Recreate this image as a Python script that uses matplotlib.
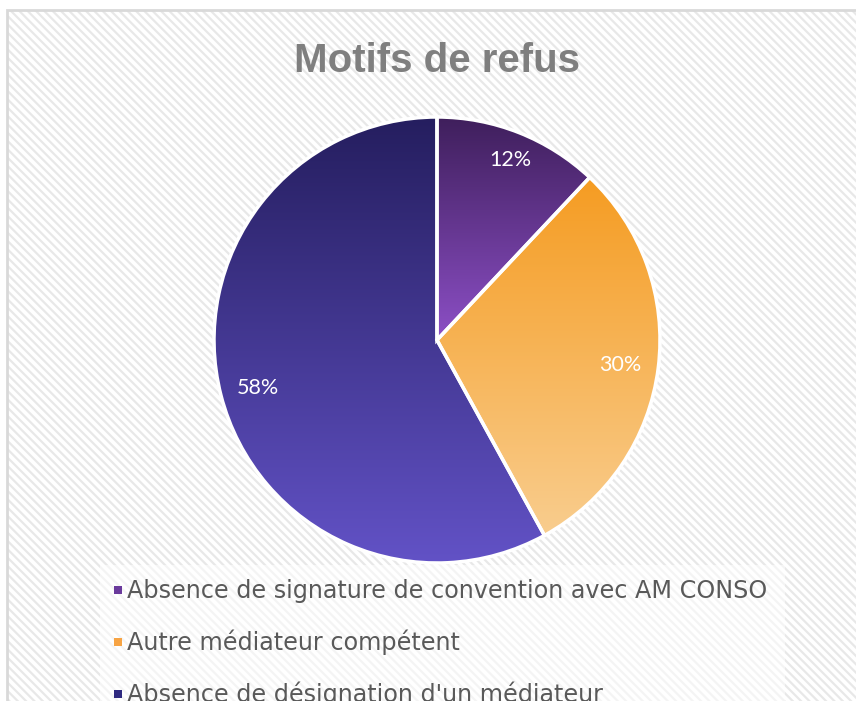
import matplotlib
matplotlib.use("Agg")
import matplotlib.pyplot as plt
import numpy as np
from matplotlib.patches import Rectangle
from matplotlib.colors import LinearSegmentedColormap

title = "Motifs de refus"
categories = ["Absence de signature de convention avec AM CONSO",
              "Autre médiateur compétent",
              "Absence de désignation d'un médiateur"]
values = [12, 30, 58]
labels = ["12%", "30%", "58%"]
grad_top = ["#3f1f5c", "#f59c22", "#251e5f"]
grad_bottom = ["#8c4fc6", "#f9cd8e", "#6252c6"]
legend_colors = ["#6a3a9c", "#f7a444", "#2f2a80"]

plt.rcParams["hatch.linewidth"] = 1.6
plt.rcParams["hatch.color"] = "#e8e8e8"

W, H = 856, 701
fig = plt.figure(figsize=(W / 100, H / 100), dpi=100)
fig.patch.set_facecolor("white")

# background with border
bg = Rectangle((7 / W, -0.05), (W + 20 - 7) / W, (H - 10) / H + 0.05,
               transform=fig.transFigure, facecolor="white",
               edgecolor="#e8e8e8", linewidth=0, hatch="\\\\\\\\", zorder=-10)
fig.patches.append(bg)
border = Rectangle((7 / W, -0.05), (W + 20 - 7) / W, (H - 10) / H + 0.05,
                   transform=fig.transFigure, facecolor="none",
                   edgecolor="#d9d9d9", linewidth=2.0, zorder=-9)
fig.patches.append(border)

# title
fig.text(437 / W, 1 - 72 / H, title, ha="center", va="baseline",
         fontsize=29, fontweight="bold", color="#7f7f7f",
         family="Liberation Sans")

# pie
cx, cy, r = 437, 340, 223
lim = 1.02
ax = fig.add_axes([(cx - r * lim) / W, (H - cy - r * lim) / H,
                   2 * r * lim / W, 2 * r * lim / H])
ax.set_zorder(1)
wedges, _ = ax.pie(values, radius=1, startangle=90, counterclock=False,
                   colors=grad_top,
                   wedgeprops=dict(edgecolor="white", linewidth=2.5))
ax.axis("off")
ax.set_aspect("equal")

for w, ct, cb in zip(wedges, grad_top, grad_bottom):
    ext = w.get_path().get_extents()
    cmap = LinearSegmentedColormap.from_list("g", [cb, ct])
    grad = np.linspace(0, 1, 256).reshape(-1, 1)
    im = ax.imshow(grad, cmap=cmap, origin="lower", aspect="auto",
                   extent=[ext.x0, ext.x1, ext.y0, ext.y1], zorder=1.5,
                   interpolation="bilinear")
    im.set_clip_path(w)
    w.set_zorder(2)
    w.set_facecolor("none")

ax.set_xlim(-lim, lim)
ax.set_ylim(-lim, lim)

# data labels
label_pos = [(510, 160), (620, 365), (258, 388)]
for (px, py), lab in zip(label_pos, labels):
    fig.text(px / W, 1 - py / H, lab, ha="center", va="center",
             color="white", fontsize=15.5, family="Lato", fontweight="normal",
             zorder=5)

# legend
leg_bg = Rectangle((100 / W, -0.05), 685 / W, (H - 565) / H + 0.05,
                   transform=fig.transFigure, facecolor="white",
                   alpha=0.55, edgecolor="none", zorder=2)
fig.patches.append(leg_bg)
rows_y = [598, 650, 702]
for cat, col, y in zip(categories, legend_colors, rows_y):
    fig.patches.append(Rectangle((114 / W, 1 - (y - 4) / H), 8 / W, 8 / H,
                                 transform=fig.transFigure, facecolor=col,
                                 edgecolor="none", zorder=3))
    fig.text(127 / W, 1 - y / H, cat, ha="left", va="baseline",
             fontsize=17.2, color="#595959", family="DejaVu Sans",
             zorder=4)

fig.savefig("out.png", dpi=100)
